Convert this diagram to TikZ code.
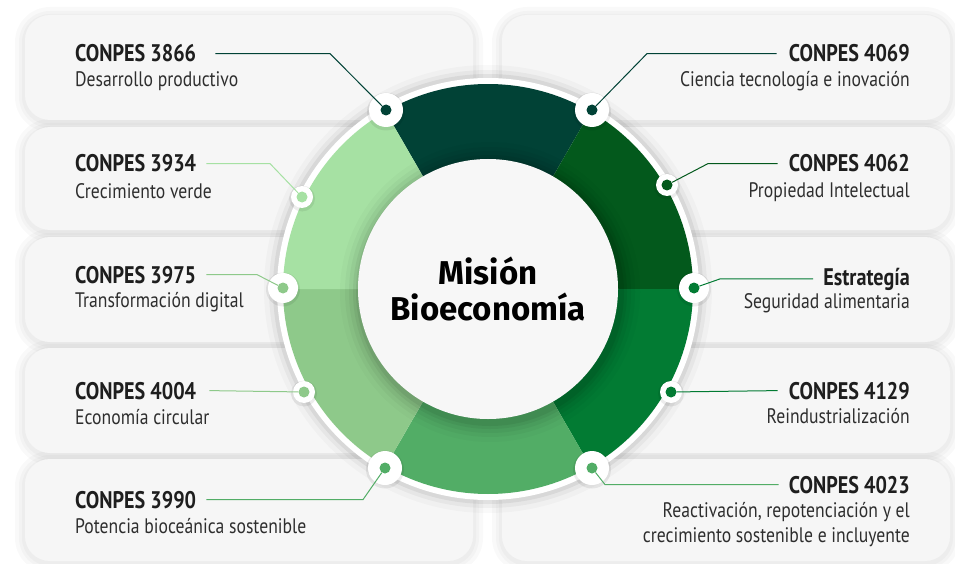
\documentclass[tikz,border=0pt]{standalone}
\usepackage{fontspec}
\setmainfont{PT Sans}[FakeStretch=0.84]
\newfontfamily\hubfont{Fira Sans}
\usetikzlibrary{positioning}
\definecolor{seg1}{HTML}{014236}
\definecolor{seg2}{HTML}{03591C}
\definecolor{seg3}{HTML}{027B33}
\definecolor{seg4}{HTML}{52AD66}
\definecolor{seg5}{HTML}{8EC98A}
\definecolor{seg6}{HTML}{A6E1A3}
\definecolor{panelgray}{HTML}{F6F6F6}
\definecolor{hubgray}{HTML}{F7F7F7}
\definecolor{ink}{HTML}{1E1E1E}
\definecolor{inksoft}{HTML}{2E2E2E}
\tikzstyle{panel}=[fill=panelgray, rounded corners=25pt]
\tikzstyle{head}=[%
  inner sep=0pt,
  text=ink,
  font=\bfseries\fontsize{24}{26}\selectfont
]
\tikzstyle{sub}=[%
  inner sep=0pt,
  text=inksoft,
  font=\fontsize{21}{25}\selectfont
]
\tikzstyle{hub}=[%
  circle,
  fill=hubgray,
  minimum size=260pt,
  inner sep=0pt,
  align=center,
  font=\hubfont\bfseries\fontsize{33}{37}\selectfont
]
\tikzstyle{dot}=[circle, inner sep=0pt, minimum size=11pt]
\tikzstyle{link}=[line width=1pt]

\begin{document}
\begin{tikzpicture}[x=1pt, y=-1pt]
  \useasboundingbox (0,0) rectangle (955,564);
  \foreach \ya/\yb in {15/120, 127/230, 237/342, 348/453, 459/561} {%
    \foreach \x in {25, 502} {%
      \foreach \g in {10, 6, 3} {%
        \fill[black, opacity=0.025, rounded corners=25pt+\g pt]
          (\x-\g, \ya-\g+2) rectangle (\x+448+\g, \yb+\g+2);
      }
    }
  }
  \foreach \ya/\yb in {15/120, 127/230, 237/342, 348/453, 459/561} {%
    \foreach \x in {25, 502} {%
      \fill[panel] (\x, \ya) rectangle (\x+448, \yb);
    }
  }

  \coordinate (c) at (488, 289);
  \foreach \r/\o in {224/0.025, 219/0.04, 215/0.06} {%
    \fill[black, opacity=\o] (c) circle[radius=\r];
  }
  \fill[white] (c) circle[radius=211];
  \foreach \s/\col in {240/seg1, 300/seg2, 0/seg3, 60/seg4, 120/seg5, 180/seg6} {%
    \fill[\col] (c) -- ++(\s:205) arc[start angle=\s, end angle=\s+60, radius=205] -- cycle;
  }
  \foreach \r/\o in {150/0.02, 145/0.03, 141/0.04, 137/0.05, 134/0.06} {%
    \fill[black, opacity=\o] ([shift={(2,3)}]c) circle[radius=\r];
  }
  \node[hub] (hub) at (c) {Misión\\[-1pt]Bioeconomía};

  \foreach \n/\px/\py/\r/\col in {3866/386/110/17/seg1, 4069/592/110/17/seg1,
      4062/667/185/11/seg2, E/694/288/15/seg3, 4129/671/392/11/seg3,
      4023/592/468/17/seg4, 3990/385/468/17/seg4, 4004/304/392/11/seg5,
      3975/283/288/15/seg5, 3934/302/197/11/seg6} {%
    \fill[black, opacity=0.07] (\px, \py+1.5) circle[radius=\r+2];
    \fill[white] (\px, \py) circle[radius=\r];
    \node[dot, fill=\col] (d\n) at (\px, \py) {};
  }

  \node[head, anchor=base west] (h3866) at (75, 62) {CONPES 3866};
  \node[sub, anchor=base west] (s3866) at (75, 87) {Desarrollo productivo};
  \node[head, anchor=base west] (h3934) at (75, 172) {CONPES 3934};
  \node[sub, anchor=base west] (s3934) at (75, 198) {Crecimiento verde};
  \node[head, anchor=base west] (h3975) at (75, 283) {CONPES 3975};
  \node[sub, anchor=base west] (s3975) at (75, 307) {Transformación digital};
  \node[head, anchor=base west] (h4004) at (75, 399) {CONPES 4004};
  \node[sub, anchor=base west] (s4004) at (75, 424) {Economía circular};
  \node[head, anchor=base west] (h3990) at (75, 508) {CONPES 3990};
  \node[sub, anchor=base west] (s3990) at (75, 533) {Potencia bioceánica sostenible};

  \node[head, anchor=base east] (h4069) at (910, 62) {CONPES 4069};
  \node[sub, anchor=base east] (s4069) at (910, 87) {Ciencia tecnología e inovación};
  \node[head, anchor=base east] (h4062) at (910, 172) {CONPES 4062};
  \node[sub, anchor=base east] (s4062) at (910, 197) {Propiedad Intelectual};
  \node[head, anchor=base east] (hE) at (910, 285) {Estrategía};
  \node[sub, anchor=base east] (sE) at (910, 308) {Seguridad alimentaria};
  \node[head, anchor=base east] (h4129) at (910, 399) {CONPES 4129};
  \node[sub, anchor=base east] (s4129) at (910, 423) {Reindustrialización};
  \node[head, anchor=base east] (h4023) at (910, 493) {CONPES 4023};
  \node[sub, anchor=north east, align=right] (s4023) at (910, 502)
    {Reactivación, repotenciación y el\\crecimiento sostenible e incluyente};

  \coordinate (k3866) at (330, 55);
  \coordinate (k3934) at (270, 163);
  \coordinate (k3975) at (257, 275);
  \coordinate (k3990) at (363, 501);
  \coordinate (k4069) at (647, 55);
  \coordinate (k4062) at (708, 163);
  \coordinate (kE) at (720, 278);
  \coordinate (k4023) at (605, 483);

  \draw[link, seg1] ([xshift=19pt]h3866.east) -- (k3866 |- h3866.east) -- (d3866);
  \draw[link, seg6] ([xshift=10pt]h3934.east) -- (k3934 |- h3934.east) -- (d3934);
  \draw[link, seg5] ([xshift=10pt]h3975.east) -- (k3975 |- h3975.east) -- (d3975);
  \draw[link, seg5] ([xshift=13pt]h4004.east) -- (d4004);
  \draw[link, seg4] ([xshift=10pt]h3990.east) -- (k3990 |- h3990.east) -- (d3990);
  \draw[link, seg1] (d4069) -- (k4069 |- h4069.west) -- ([xshift=-12pt]h4069.west);
  \draw[link, seg2] (d4062) -- (k4062 |- h4062.west) -- ([xshift=-11pt]h4062.west);
  \draw[link, seg3] (dE) -- (kE |- hE.west) -- ([xshift=-10pt]hE.west);
  \draw[link, seg3] (d4129) -- ([xshift=-11pt]h4129.west);
  \draw[link, seg4] (d4023) -- (k4023 |- h4023.west) -- ([xshift=-10pt]h4023.west);
\end{tikzpicture}
\end{document}
